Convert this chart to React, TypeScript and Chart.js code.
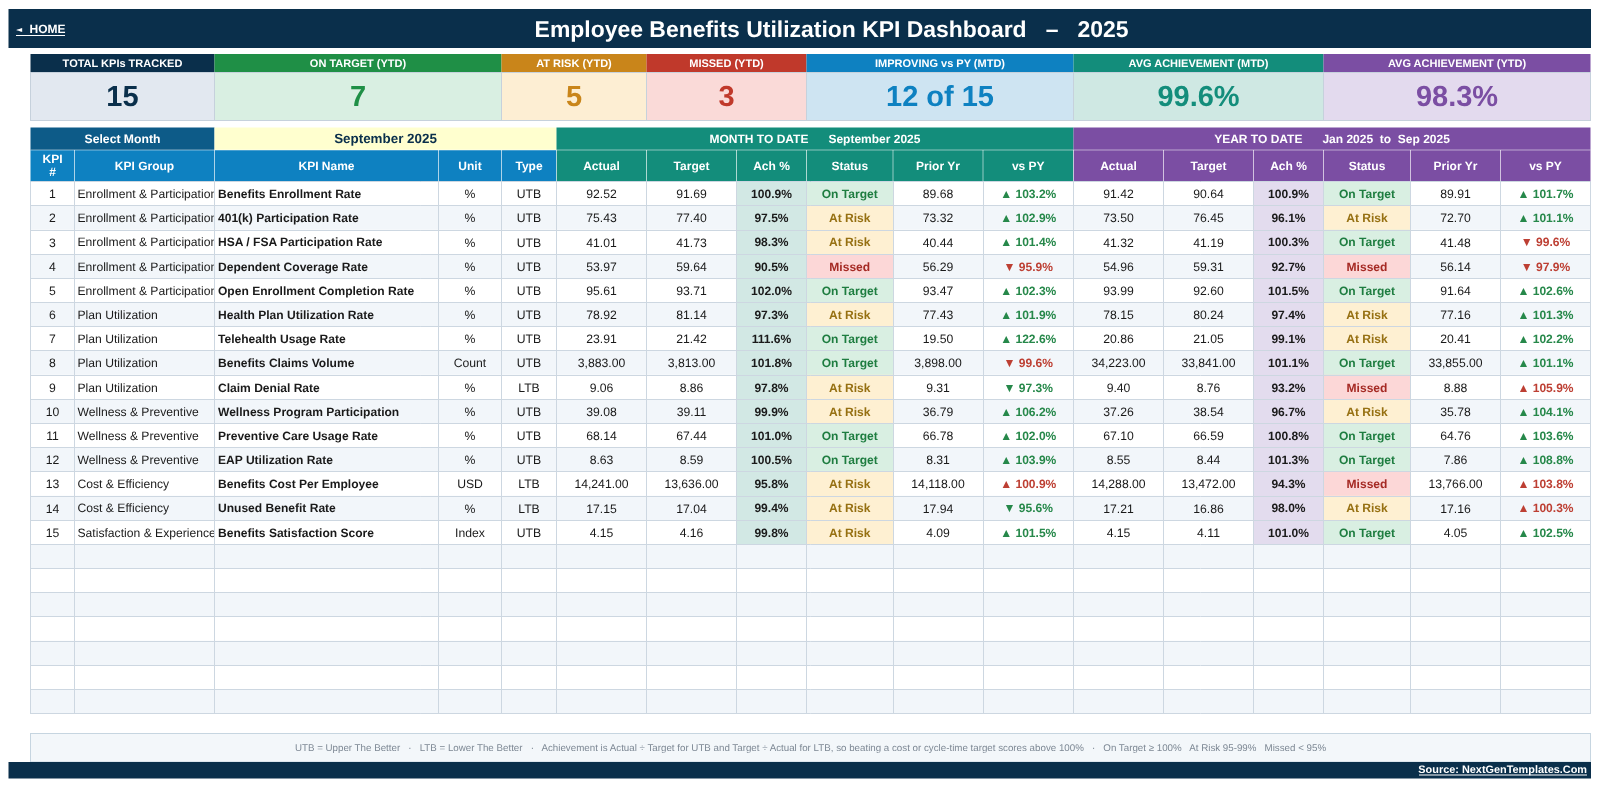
import React, { useEffect, useRef } from "react";
import { Chart, registerables } from "chart.js";

Chart.register(...registerables);

// ---------- table data ----------
const rowNumbers = ["1","2","3","4","5","6","7","8","9","10","11","12","13","14","15","","","","","","",""];
const kpiGroups = ["Enrollment & Participation","Enrollment & Participation","Enrollment & Participation","Enrollment & Participation","Enrollment & Participation","Plan Utilization","Plan Utilization","Plan Utilization","Plan Utilization","Wellness & Preventive","Wellness & Preventive","Wellness & Preventive","Cost & Efficiency","Cost & Efficiency","Satisfaction & Experience"];
const kpiNames = ["Benefits Enrollment Rate","401(k) Participation Rate","HSA / FSA Participation Rate","Dependent Coverage Rate","Open Enrollment Completion Rate","Health Plan Utilization Rate","Telehealth Usage Rate","Benefits Claims Volume","Claim Denial Rate","Wellness Program Participation","Preventive Care Usage Rate","EAP Utilization Rate","Benefits Cost Per Employee","Unused Benefit Rate","Benefits Satisfaction Score"];
const units = ["%","%","%","%","%","%","%","Count","%","%","%","%","USD","%","Index"];
const types = ["UTB","UTB","UTB","UTB","UTB","UTB","UTB","UTB","LTB","UTB","UTB","UTB","LTB","LTB","UTB"];

const mtdActual = ["92.52","75.43","41.01","53.97","95.61","78.92","23.91","3,883.00","9.06","39.08","68.14","8.63","14,241.00","17.15","4.15"];
const mtdTarget = ["91.69","77.40","41.73","59.64","93.71","81.14","21.42","3,813.00","8.86","39.11","67.44","8.59","13,636.00","17.04","4.16"];
const mtdAch = ["100.9%","97.5%","98.3%","90.5%","102.0%","97.3%","111.6%","101.8%","97.8%","99.9%","101.0%","100.5%","95.8%","99.4%","99.8%"];
const mtdStatus = ["On Target","At Risk","At Risk","Missed","On Target","At Risk","On Target","On Target","At Risk","At Risk","On Target","On Target","At Risk","At Risk","At Risk"];
const mtdPrior = ["89.68","73.32","40.44","56.29","93.47","77.43","19.50","3,898.00","9.31","36.79","66.78","8.31","14,118.00","17.94","4.09"];
const mtdVsPy = ["▲ 103.2%","▲ 102.9%","▲ 101.4%","▼ 95.9%","▲ 102.3%","▲ 101.9%","▲ 122.6%","▼ 99.6%","▼ 97.3%","▲ 106.2%","▲ 102.0%","▲ 103.9%","▲ 100.9%","▼ 95.6%","▲ 101.5%"];

const ytdActual = ["91.42","73.50","41.32","54.96","93.99","78.15","20.86","34,223.00","9.40","37.26","67.10","8.55","14,288.00","17.21","4.15"];
const ytdTarget = ["90.64","76.45","41.19","59.31","92.60","80.24","21.05","33,841.00","8.76","38.54","66.59","8.44","13,472.00","16.86","4.11"];
const ytdAch = ["100.9%","96.1%","100.3%","92.7%","101.5%","97.4%","99.1%","101.1%","93.2%","96.7%","100.8%","101.3%","94.3%","98.0%","101.0%"];
const ytdStatus = ["On Target","At Risk","On Target","Missed","On Target","At Risk","At Risk","On Target","Missed","At Risk","On Target","On Target","Missed","At Risk","On Target"];
const ytdPrior = ["89.91","72.70","41.48","56.14","91.64","77.16","20.41","33,855.00","8.88","35.78","64.76","7.86","13,766.00","17.16","4.05"];
const ytdVsPy = ["▲ 101.7%","▲ 101.1%","▼ 99.6%","▼ 97.9%","▲ 102.6%","▲ 101.3%","▲ 102.2%","▲ 101.1%","▲ 105.9%","▲ 104.1%","▲ 103.6%","▲ 108.8%","▲ 103.8%","▲ 100.3%","▲ 102.5%"];

const tableHeaders = ["KPI\n#","KPI Group","KPI Name","Unit","Type","Actual","Target","Ach %","Status","Prior Yr","vs PY","Actual","Target","Ach %","Status","Prior Yr","vs PY"];
const kpiLabels = ["TOTAL KPIs TRACKED","ON TARGET (YTD)","AT RISK (YTD)","MISSED (YTD)","IMPROVING vs PY (MTD)","AVG ACHIEVEMENT (MTD)","AVG ACHIEVEMENT (YTD)"];
const kpiValues = ["15","7","5","3","12 of 15","99.6%","98.3%"];

const titleText = "Employee Benefits Utilization KPI Dashboard   –   2025";
const noteText = "UTB = Upper The Better   ·   LTB = Lower The Better   ·   Achievement is Actual ÷ Target for UTB and Target ÷ Actual for LTB, so beating a cost or cycle-time target scores above 100%   ·   On Target ≥ 100%   At Risk 95-99%   Missed < 95%";

// ---------- layout and style ----------
const colEdges = [30.5,74.5,214.5,438.5,501.5,556.5,646.5,736.5,806.5,893,983,1073.5,1163.5,1253.5,1323.5,1410.5,1500.5,1590.5];
const kpiEdges = [30.5,214.5,501.5,646.5,806.5,1073.5,1323.5,1590.5];
const FONT = '"Liberation Sans", Arial, sans-serif';
const NAVY = "#0a2f4b";
const TEAL = "#138d7b";
const PURPLE = "#7b4ea3";
const BLUE = "#0e81c1";
const kpiHeadColors = [NAVY,"#1f8f46","#c9851a","#c0392b",BLUE,TEAL,PURPLE];
const kpiBgColors = ["#e2e8f0","#d9efe2","#fdeed3","#fadad8","#cee4f2","#cfe8e3","#e3daee"];
const kpiTextColors = [NAVY,"#1f8f46","#c9851a","#c0392b",BLUE,TEAL,PURPLE];
const GRID = "#cdd7e1";
const ALT = "#f2f6fa";
const STATUS_BG: Record<string,string> = { "On Target":"#d9efe2", "At Risk":"#fef0d2", "Missed":"#fcd7d7" };
const STATUS_FG: Record<string,string> = { "On Target":"#1e7d40", "At Risk":"#967012", "Missed":"#a52a24" };
const GOOD = "#26884a";
const BAD = "#bd3f33";

const REG = `12.2px ${FONT}`;
const BOLD = `bold 12.05px ${FONT}`;
const columns: { text: string[]; align: "center"|"left"; font: string; pad?: number; kind?: string }[] = [
  { text: rowNumbers, align: "center", font: REG },
  { text: kpiGroups, align: "left", font: `12.15px ${FONT}`, pad: 3 },
  { text: kpiNames, align: "left", font: BOLD, pad: 3.5 },
  { text: units, align: "center", font: REG },
  { text: types, align: "center", font: REG },
  { text: mtdActual, align: "center", font: REG },
  { text: mtdTarget, align: "center", font: REG },
  { text: mtdAch, align: "center", font: BOLD, kind: "achM" },
  { text: mtdStatus, align: "center", font: BOLD, kind: "status" },
  { text: mtdPrior, align: "center", font: REG },
  { text: mtdVsPy, align: "center", font: BOLD, kind: "vs" },
  { text: ytdActual, align: "center", font: REG },
  { text: ytdTarget, align: "center", font: REG },
  { text: ytdAch, align: "center", font: BOLD, kind: "achY" },
  { text: ytdStatus, align: "center", font: BOLD, kind: "status" },
  { text: ytdPrior, align: "center", font: REG },
  { text: ytdVsPy, align: "center", font: BOLD, kind: "vs" },
];

function cellBg(col: number, row: number): string {
  const kind = columns[col].kind;
  const value = columns[col].text[row];
  if (value) {
    if (kind === "achM") return "#d2e8e4";
    if (kind === "achY") return "#e3dcee";
    if (kind === "status") return STATUS_BG[value];
  }
  return row % 2 === 1 ? ALT : "#ffffff";
}

function vsColor(row: number, value: string): string {
  const up = value.startsWith("▲");
  const higherIsBetter = types[row] === "UTB";
  return up === higherIsBetter ? GOOD : BAD;
}

function cellFg(col: number, row: number, value: string): string {
  const kind = columns[col].kind;
  if (kind === "status") return STATUS_FG[value];
  if (kind === "vs") return vsColor(row, value);
  return "#1a1a1a";
}

const tablePlugin = {
  id: "tablePainter",
  afterDatasetsDraw(chart: any) {
    const { ctx, scales } = chart;
    const X = (v: number) => scales.x.getPixelForValue(v);
    const rect = (x0: number, x1: number, y0: number, y1: number, fill: string) => {
      ctx.fillStyle = fill;
      ctx.fillRect(X(x0), y0, X(x1) - X(x0), y1 - y0);
    };
    const label = (t: string, x: number, y: number, font: string, color: string, align: CanvasTextAlign = "center") => {
      ctx.font = font;
      ctx.fillStyle = color;
      ctx.textAlign = align;
      ctx.textBaseline = "middle";
      ctx.fillText(t, x, y);
    };
    ctx.save();
    ctx.textRendering = "geometricPrecision";
    ctx.fontKerning = "normal";

    // cell text, positioned from the bars that the scales laid out
    columns.forEach((col, c) => {
      const bars = chart.getDatasetMeta(c).data;
      col.text.forEach((t, r) => {
        if (!t) return;
        const bar = bars[r];
        ctx.save();
        ctx.beginPath();
        ctx.rect(bar.base, bar.y - bar.height / 2, bar.x - bar.base, bar.height);
        ctx.clip();
        const x = col.align === "left" ? bar.base + (col.pad || 3) : (bar.base + bar.x) / 2;
        label(t, x, bar.y + 1, col.font, cellFg(c, r, t), col.align);
        ctx.restore();
      });
    });

    // banner
    rect(8.5, 1591, 9, 48, NAVY);
    label(titleText, X(831.6), 30.5, `bold 22.95px ${FONT}`, "#ffffff");
    label("◄", 16, 30, `8px "DejaVu Sans"`, "#ffffff", "left");
    label("HOME", 29.5, 30, `bold 12px ${FONT}`, "#ffffff", "left");
    ctx.fillStyle = "#ffffff";
    ctx.fillRect(16, 35, 49, 1);

    // KPI cards
    kpiLabels.forEach((t, i) => {
      const a = kpiEdges[i], b = kpiEdges[i + 1], m = (X(a) + X(b)) / 2;
      rect(a, b, 54, 72.5, kpiHeadColors[i]);
      rect(a, b, 72.5, 120.5, kpiBgColors[i]);
      label(t, m, 63.5, `bold 11px ${FONT}`, "#ffffff");
      label(kpiValues[i], m, 98, `bold 29px ${FONT}`, kpiTextColors[i]);
      ctx.strokeStyle = "#c6d1dc";
      ctx.lineWidth = 1;
      ctx.strokeRect(X(a), 72.5, X(b) - X(a), 48);
    });

    // section headers
    rect(30.5, 214.5, 127.5, 150, "#0d5b88");
    rect(214.5, 556.5, 127.5, 150, "#ffffcf");
    rect(556.5, 1073.5, 127.5, 150, TEAL);
    rect(1073.5, 1590.5, 127.5, 150, PURPLE);
    label("Select Month", X(122.5), 139.5, `bold 12.2px ${FONT}`, "#ffffff");
    label("September 2025", X(385.5), 139.5, `bold 13.4px ${FONT}`, NAVY);
    label("MONTH TO DATE      September 2025", X(815), 139.5, `bold 12px ${FONT}`, "#ffffff");
    label("YEAR TO DATE      Jan 2025  to  Sep 2025", X(1332), 139.5, `bold 12px ${FONT}`, "#ffffff");

    // column headers
    tableHeaders.forEach((t, i) => {
      const a = colEdges[i], b = colEdges[i + 1], m = (X(a) + X(b)) / 2;
      rect(a, b, 150, 181.7, i < 5 ? BLUE : i < 11 ? TEAL : PURPLE);
      const lines = t.split("\n");
      const font = `bold 12px ${FONT}`;
      if (lines.length === 2) {
        label(lines[0], m, 159.5, font, "#ffffff");
        label(lines[1], m, 172.5, font, "#ffffff");
      } else {
        label(t, m, 166.5, font, "#ffffff");
      }
      if (i > 0) {
        ctx.fillStyle = "rgba(255,255,255,0.55)";
        ctx.fillRect(X(a) - 0.5, 150, 1, 31.7);
      }
    });
    ctx.fillStyle = "rgba(255,255,255,0.5)";
    ctx.fillRect(X(30.5), 149.5, X(1590.5) - X(30.5), 1);

    // note and footer
    rect(30.5, 1590.5, 733.5, 762, "#f3f7fa");
    ctx.strokeStyle = "#c6d5e0";
    ctx.lineWidth = 1;
    ctx.strokeRect(X(30.5), 733.5, X(1590.5) - X(30.5), 28.5);
    label(noteText, X(810.5), 748.5, `9.75px ${FONT}`, "#7d8894");
    rect(8.5, 1591, 762, 778.5, NAVY);
    label("Source: NextGenTemplates.Com", X(1587), 769.7, `bold 10.9px ${FONT}`, "#ffffff", "right");
    ctx.fillStyle = "#ffffff";
    ctx.fillRect(X(1419), 774.5, 168, 1);

    ctx.restore();
  },
};

export default function App() {
  const ref = useRef<HTMLCanvasElement>(null);
  useEffect(() => {
    const chart = new Chart(ref.current as HTMLCanvasElement, {
      type: "bar",
      data: {
        labels: rowNumbers.map((n, i) => n || `row ${i + 1}`),
        datasets: columns.map((col, c) => ({
          label: tableHeaders[c],
          data: rowNumbers.map(() => [colEdges[c], colEdges[c + 1]]),
          backgroundColor: (ctx: any) => cellBg(c, ctx.dataIndex),
          borderWidth: 0,
          barPercentage: 1,
          categoryPercentage: 1,
          grouped: false,
        })),
      } as any,
      options: {
        indexAxis: "y",
        animation: false,
        responsive: false,
        devicePixelRatio: 1,
        layout: { padding: { left: 30.5, right: 9.5, top: 181.7, bottom: 74.3 } },
        plugins: { legend: { display: false }, tooltip: { enabled: false }, title: { display: false } },
        scales: {
          x: {
            type: "linear",
            min: colEdges[0],
            max: colEdges[colEdges.length - 1],
            afterBuildTicks: (scale: any) => { scale.ticks = colEdges.map((value) => ({ value })); },
            ticks: { display: false },
            grid: { color: GRID, lineWidth: 1, z: 1, drawTicks: false },
            border: { display: false },
          },
          y: {
            type: "category",
            ticks: { display: false },
            grid: { color: GRID, lineWidth: 1, z: 1, drawTicks: false, offset: true },
            border: { display: false },
          },
        },
      } as any,
      plugins: [tablePlugin],
    });
    return () => chart.destroy();
  }, []);
  return (
    <canvas
      ref={ref}
      width={1600}
      height={788}
      style={{ position: "fixed", left: 0, top: 0, width: 1600, height: 788, background: "#ffffff" }}
    />
  );
}
